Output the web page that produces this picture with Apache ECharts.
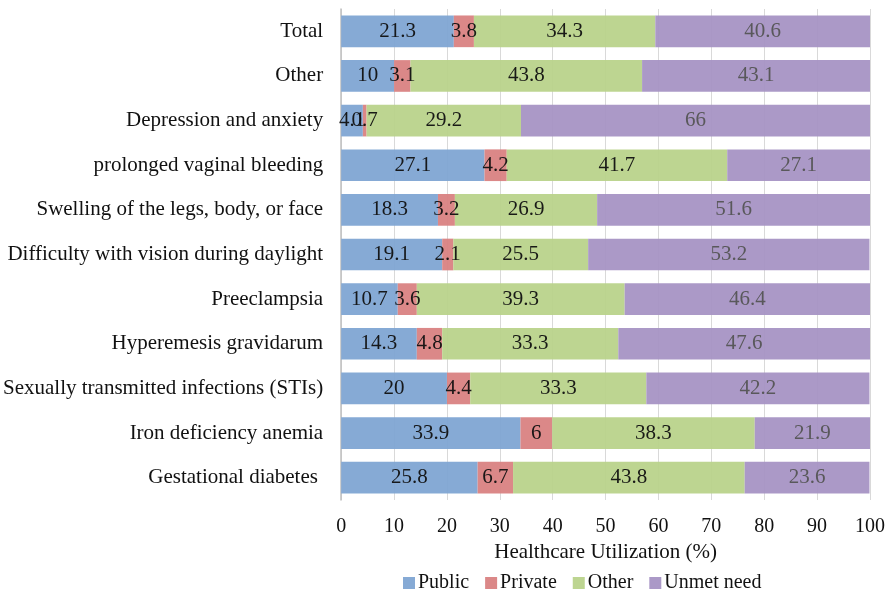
<!DOCTYPE html>
<html>
<head>
<meta charset="utf-8">
<script src="https://cdn.jsdelivr.net/npm/echarts@6/dist/echarts.min.js"></script>
<style>
  html, body { margin: 0; padding: 0; background: #fff; }
  #chart { width: 890px; height: 593px; }
</style>
</head>
<body>
<div id="chart"></div>
<script>
// categories listed bottom to top, as the axis draws them
const categories = [
  'Gestational diabetes ',
  'Iron deficiency anemia',
  'Sexually transmitted infections (STIs)',
  'Hyperemesis gravidarum',
  'Preeclampsia',
  'Difficulty with vision during daylight',
  'Swelling of the legs, body, or face',
  'prolonged vaginal bleeding',
  'Depression and anxiety',
  'Other',
  'Total'
]
const publicVals  = [25.8, 33.9, 20, 14.3, 10.7, 19.1, 18.3, 27.1, 4.1, 10, 21.3]
const privateVals = [6.7, 6, 4.4, 4.8, 3.6, 2.1, 3.2, 4.2, 0.7, 3.1, 3.8]
const otherVals   = [43.8, 38.3, 33.3, 33.3, 39.3, 25.5, 26.9, 41.7, 29.2, 43.8, 34.3]
const unmetVals   = [23.6, 21.9, 42.2, 47.6, 46.4, 53.2, 51.6, 27.1, 66, 43.1, 40.6]

const seriesNames = ['Public', 'Private', 'Other', 'Unmet need']
const colors = ['#7fa5d3', '#d98282', '#b9d38b', '#a794c4']
const labelColors = ['#111', '#111', '#111', '#555']
const font = '"Liberation Serif", "Times New Roman", serif'

const chart = echarts.init(document.getElementById('chart'))

function makeSeries(name, data, i) {
  return {
    name,
    type: 'bar',
    stack: 'total',
    data,
    barCategoryGap: '29%',
    itemStyle: { color: colors[i], opacity: 0.95 },
    label: {
      show: true,
      position: 'inside',
      color: labelColors[i],
      fontFamily: font,
      fontSize: 21
    }
  }
}

chart.setOption({
  animation: false,
  textStyle: { fontFamily: font },
  grid: { left: 341, right: 20, top: 9, bottom: 93 },
  legend: {
    left: 398,
    top: 568,
    itemWidth: 12,
    itemHeight: 12,
    itemGap: 16,
    icon: 'rect',
    textStyle: { fontFamily: font, fontSize: 20, color: '#111', padding: [0, 0, 0, -2] },
    data: seriesNames
  },
  xAxis: {
    type: 'value',
    min: 0,
    max: 100,
    interval: 10,
    name: 'Healthcare Utilization (%)',
    nameLocation: 'middle',
    nameGap: 42,
    nameTextStyle: { fontFamily: font, fontSize: 21, color: '#111' },
    axisLine: { show: false },
    axisTick: { show: false },
    axisLabel: { fontFamily: font, fontSize: 20, color: '#111', margin: 17 },
    splitLine: { lineStyle: { color: '#d9d9d9', width: 1 } }
  },
  yAxis: {
    type: 'category',
    data: categories,
    axisLine: { lineStyle: { color: '#bfbfbf', width: 1.5 } },
    axisTick: { show: false },
    axisLabel: { fontFamily: font, fontSize: 21, color: '#111', margin: 18 }
  },
  series: [
    makeSeries(seriesNames[0], publicVals, 0),
    makeSeries(seriesNames[1], privateVals, 1),
    makeSeries(seriesNames[2], otherVals, 2),
    makeSeries(seriesNames[3], unmetVals, 3)
  ]
})
</script>
</body>
</html>
